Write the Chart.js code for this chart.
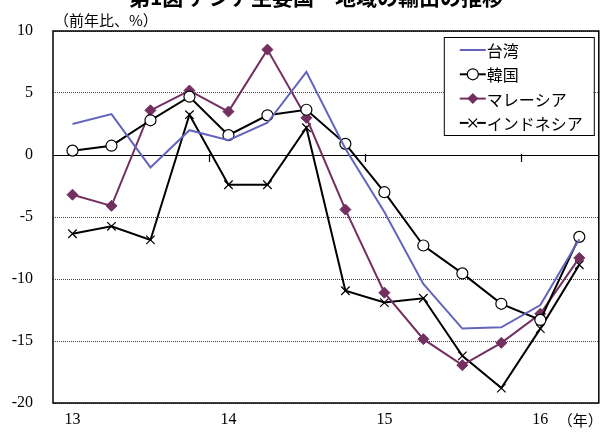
<!DOCTYPE html>
<html><head><meta charset="utf-8">
<script src="https://cdn.jsdelivr.net/npm/chart.js@4.4.0/dist/chart.umd.min.js"></script>
<style>html,body{margin:0;padding:0;background:#fff;overflow:hidden}#wrap{width:606px;height:433px;position:relative}</style>
</head><body><div id="wrap"><canvas id="c" width="606" height="433"></canvas></div>
<script>
const chartTitle = '第1図 アジア主要国・地域の輸出の推移';
const unitLabel = '（前年比、%）';
const xUnitLabel = '（年）';
const quarters = ['13Q1','13Q2','13Q3','13Q4','14Q1','14Q2','14Q3','14Q4','15Q1','15Q2','15Q3','15Q4','16Q1','16Q2'];
const yearLabels = ['13','14','15','16'];
const seriesNames = ['台湾','韓国','マレーシア','インドネシア'];
const taiwan    = [2.5, 3.3, -1.0, 2.0, 1.2, 2.6, 6.7, 0.5, -4.6, -10.4, -14.0, -13.9, -12.1, -6.8];
const korea     = [0.35, 0.75, 2.8, 4.7, 1.6, 3.2, 3.65, 0.9, -3.0, -7.3, -9.55, -12.0, -13.3, -6.6];
const malaysia  = [-3.2, -4.1, 3.6, 5.2, 3.5, 8.5, 3.0, -4.4, -11.1, -14.85, -16.95, -15.15, -12.8, -8.3];
const indonesia = [-6.35, -5.75, -6.85, 3.25, -2.4, -2.4, 2.2, -10.95, -11.9, -11.55, -16.2, -18.8, -14.0, -8.85];

const TW = '#6464BE', MY = '#722F5F';
const serif = '"Liberation Serif", "Noto Sans CJK JP", serif';
const jp = '"Noto Sans CJK JP", sans-serif';

const decor = {
  id: 'decor',
  beforeDraw(chart) {
    const c = chart.ctx;
    c.save(); c.fillStyle = '#fff'; c.fillRect(0, 0, chart.width, chart.height); c.restore();
  },
  beforeDatasetsDraw(chart) {
    // year-boundary tick marks hanging below the zero line
    const c = chart.ctx, xs = chart.scales.x, ys = chart.scales.y;
    const y0 = Math.round(ys.getPixelForValue(0));
    c.save();
    c.strokeStyle = '#000'; c.lineWidth = 1.2;
    c.beginPath();
    c.moveTo(chart.chartArea.left, y0 + 0.5); c.lineTo(chart.chartArea.right, y0 + 0.5);
    for (let i = 4; i < quarters.length; i += 4) {
      const xb = Math.round((xs.getPixelForValue(i - 1) + xs.getPixelForValue(i)) / 2) + 0.5;
      c.moveTo(xb, y0 - 1); c.lineTo(xb, y0 + 7);
    }
    c.stroke();
    c.restore();
  },
  afterDraw(chart) {
    const c = chart.ctx, a = chart.chartArea;
    c.save();
    // frame
    c.strokeStyle = '#000'; c.lineWidth = 1.5;
    c.strokeRect(a.left, a.top, a.right - a.left, a.bottom - a.top);
    // title (cut off at top)
    c.fillStyle = '#000';
    c.font = 'bold 21px ' + jp; c.textAlign = 'center'; c.textBaseline = 'alphabetic';
    c.fillText(chartTitle, 316, 5);
    // unit labels
    c.font = '15px ' + jp; c.textAlign = 'left';
    c.fillText(unitLabel, a.left + 1, 26);
    c.font = '15px ' + jp;
    c.fillText(xUnitLabel, a.right - 41, 426);
    // legend
    const bw = 150, bh = 98;
    const bx = a.right - 5 - bw, by = a.top + 6;
    c.fillStyle = '#fff'; c.fillRect(bx, by, bw, bh);
    c.strokeStyle = '#000'; c.lineWidth = 1; c.strokeRect(bx + 0.5, by + 0.5, bw, bh);
    chart.data.datasets.forEach((ds, i) => {
      const yy = by + 13 + i * 24.3;
      const x1 = bx + 16, x2 = bx + 42, xm = (x1 + x2) / 2;
      c.strokeStyle = ds.borderColor; c.lineWidth = ds.borderWidth;
      c.beginPath(); c.moveTo(x1, yy); c.lineTo(x2, yy); c.stroke();
      const r = ds.pointRadius;
      if (ds.pointStyle === 'circle' && r > 0) {
        c.beginPath(); c.arc(xm, yy, r, 0, Math.PI * 2);
        c.fillStyle = ds.pointBackgroundColor; c.fill();
        c.lineWidth = ds.pointBorderWidth; c.strokeStyle = ds.pointBorderColor; c.stroke();
      } else if (ds.pointStyle === 'rectRot' && r > 0) {
        c.beginPath(); c.moveTo(xm, yy - r); c.lineTo(xm + r, yy); c.lineTo(xm, yy + r); c.lineTo(xm - r, yy); c.closePath();
        c.fillStyle = ds.pointBackgroundColor; c.fill();
      } else if (ds.pointStyle === 'crossRot' && r > 0) {
        const d = r * 0.72;
        c.fillStyle = '#fff'; c.fillRect(xm - d, yy - d, 2 * d, 2 * d);
        c.beginPath(); c.moveTo(xm - d, yy - d); c.lineTo(xm + d, yy + d); c.moveTo(xm + d, yy - d); c.lineTo(xm - d, yy + d);
        c.lineWidth = ds.pointBorderWidth; c.strokeStyle = ds.pointBorderColor; c.stroke();
      }
      c.fillStyle = '#000'; c.font = '16px ' + jp; c.textAlign = 'left'; c.textBaseline = 'middle';
      c.fillText(ds.label, x2 + 1, yy + 1);
    });
    c.restore();
  }
};

new Chart(document.getElementById('c'), {
  type: 'line',
  data: {
    labels: quarters,
    datasets: [
      { label: seriesNames[0], data: taiwan, borderColor: TW, borderWidth: 2, pointRadius: 0, pointStyle: false, tension: 0 },
      { label: seriesNames[1], data: korea, borderColor: '#000', borderWidth: 2, pointStyle: 'circle', pointRadius: 5.5, pointBackgroundColor: '#fff', pointBorderColor: '#000', pointBorderWidth: 1.2 },
      { label: seriesNames[2], data: malaysia, borderColor: MY, borderWidth: 2, pointStyle: 'rectRot', pointRadius: 5.5, pointBackgroundColor: MY, pointBorderColor: MY, pointBorderWidth: 1 },
      { label: seriesNames[3], data: indonesia, borderColor: '#000', borderWidth: 2, pointStyle: 'crossRot', pointRadius: 6, pointBackgroundColor: '#fff', pointBorderColor: '#000', pointBorderWidth: 1.2 }
    ]
  },
  options: {
    responsive: false, animation: false, devicePixelRatio: 1,
    layout: { padding: { left: 0, top: 31, right: 4, bottom: 0 } },
    plugins: { legend: { display: false }, tooltip: { enabled: false }, title: { display: false } },
    scales: {
      x: {
        type: 'category', offset: true, position: 'bottom',
        grid: { display: false, drawTicks: false },
        border: { display: false },
        ticks: {
          autoSkip: false, maxRotation: 0, padding: 7, color: '#000',
          font: { family: serif, size: 16 },
          callback: (v, i) => (i % 4 === 0 ? yearLabels[i / 4] : '')
        },
        afterFit: s => { s.height = 30; }
      },
      y: {
        min: -20, max: 10,
        ticks: { stepSize: 5, padding: 20, color: '#000', font: { family: serif, size: 16 } },
        grid: { color: '#444', lineWidth: 1, drawTicks: false },
        border: { display: false, dash: [1, 1] },
        afterFit: s => { s.width = 53; }
      }
    }
  },
  plugins: [decor]
});
</script></body></html>
